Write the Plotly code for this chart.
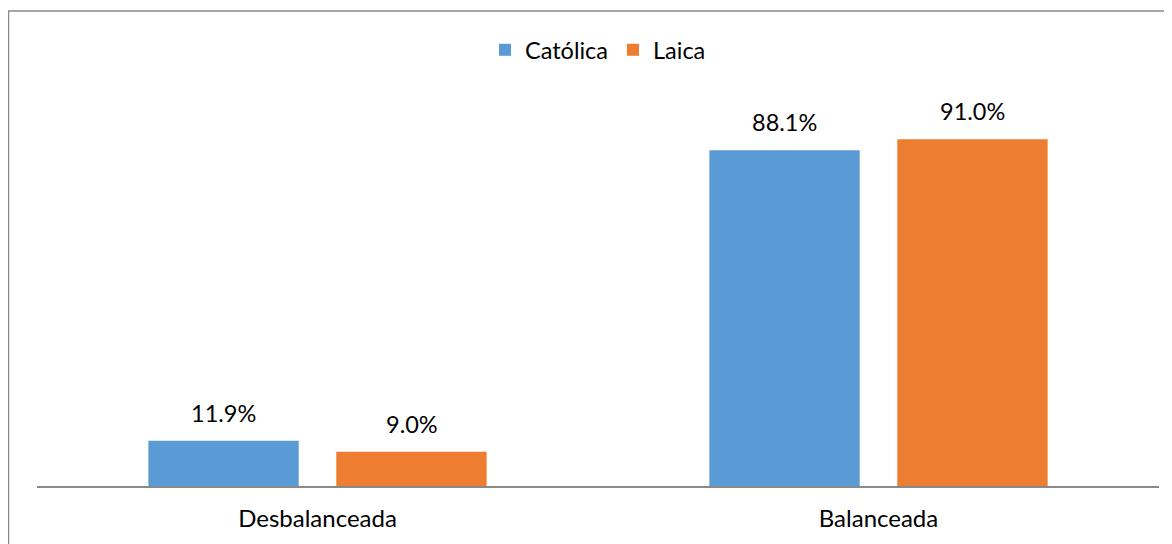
import plotly.graph_objects as go

categories = ["Desbalanceada", "Balanceada"]
catolica = [11.9, 88.1]
laica = [9.0, 91.0]
series_names = ["Católica", "Laica"]
colors = ["#5B9BD5", "#ED7D31"]

# the page body adds an 8px offset, so the figure is laid out in page coords minus 8
W, H = 1172, 544
L, R, T, B = 29, 21, 97, 66
pw, ph = W - L - R, H - T - B
FONT = "Lato, Noto Sans, sans-serif"

fig = go.Figure()
for name, vals, col in zip(series_names, [catolica, laica], colors):
    fig.add_trace(
        go.Bar(
            x=categories,
            y=vals,
            name=name,
            marker=dict(color=col, line=dict(width=0)),
        )
    )

# value labels floating above each bar
for vals, shift in zip([catolica, laica], [-94, 94]):
    for cat, v in zip(categories, vals):
        fig.add_annotation(
            x=cat, y=v, text=f"{v:.1f}%",
            showarrow=False, xshift=shift, yshift=28,
            yanchor="middle", xanchor="center",
            font=dict(family=FONT, size=23.5, color="#000000"),
        )

# outer chart border (partly cut off by the picture edges)
fig.add_shape(
    type="rect",
    xref="paper", yref="paper",
    x0=(0.5 - L) / pw, x1=(W + 10 - L) / pw,
    y0=-(B + 10) / ph, y1=(H - B - 3) / ph,
    line=dict(color="#898989", width=1.5),
    fillcolor="rgba(0,0,0,0)",
    layer="below",
)

fig.update_layout(
    width=W,
    height=H,
    margin=dict(l=L, r=R, t=T, b=B),
    plot_bgcolor="white",
    paper_bgcolor="white",
    font=dict(family=FONT, size=23.5, color="#000000"),
    barmode="group",
    bargap=0.33,
    bargroupgap=0.2,
    showlegend=True,
    legend=dict(
        orientation="h",
        x=0.5, xanchor="center",
        y=(H - B - 42) / ph, yanchor="middle",
        font=dict(family=FONT, size=23.5),
        traceorder="normal",
    ),
)
fig.update_xaxes(
    showline=True, linecolor="#898989", linewidth=1.5,
    ticks="", showgrid=False, tickfont=dict(family=FONT, size=24),
    ticklabelstandoff=10,
)
fig.update_yaxes(
    range=[0, 100], visible=False, showgrid=False, zeroline=False,
)

fig.write_html("out.html")
